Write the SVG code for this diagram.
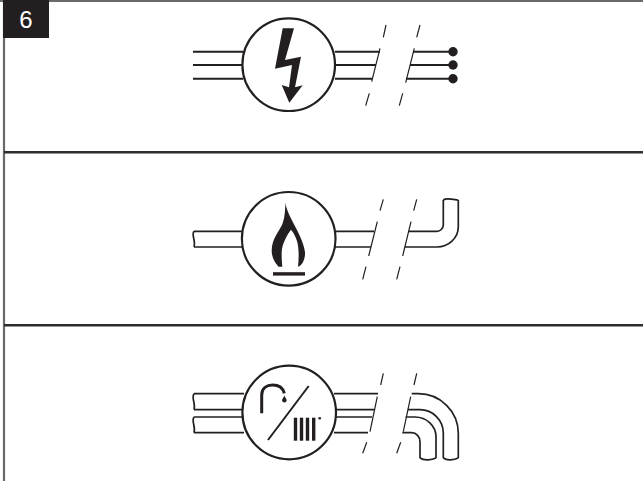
<svg xmlns="http://www.w3.org/2000/svg" width="643" height="481" viewBox="0 0 643 481">
<style>
.ln{fill:none;stroke:#231f20;stroke-width:2}
.th{fill:none;stroke:#231f20;stroke-width:1.7}
.ci{fill:#fff;stroke:#231f20;stroke-width:2.2}
.da{fill:none;stroke:#231f20;stroke-width:1.2}
.fr{fill:none;stroke:#2e2c2d;stroke-width:2.4}
.fg{fill:none;stroke:#6a6a6a;stroke-width:2.200}
.k{fill:#231f20}
</style>
<rect width="643" height="481" fill="#fff"/>
<g id="frame">
<path class="fg" d="M0 1H643M4 0V481"/>
<path class="fr" d="M4 152.300H643M4 325.300H643"/>
</g>
<g id="badge">
<rect class="k" x="3" y="0" width="46" height="38"/>
<text x="26" y="27.500" font-family="'Liberation Sans',Arial,sans-serif" font-size="24" fill="#fff" text-anchor="middle">6</text>
</g>
<g id="connectors">
<path class="ln" d="M193 51.700H243M193 65H243M193 78.700H243M335 51.700H380M335 65H376M335 78.700H372M413 51.700H453M410 65H453M406 78.700H453"/>
<path class="da" d="M386 25L383.300 37.300M380 48.300L371.700 81.700M369.300 93.300L365.700 105.700M420 25L416.700 37.300M414.300 48.300L405.700 82.700M402.700 93.300L399.300 105.700"/>
<path class="th" d="M194 231.300H243M194 247H243M335 231.300H374M335 247H371M408.700 231.300H436.700A6.500 6.500 0 0 0 443.300 225V200M404.700 247H436.700A21.500 20.300 0 0 0 458.300 226.700V200"/>
<path class="th" d="M194 231.300C191 235 196 240 194 247M443.300 200C447 197 454 200 458.300 200"/>
<path class="da" d="M383.300 199.300L380 210.700M377.300 221.700L368.700 256M366 266.700L362.700 279.300M416.700 199.300L413.700 210.700M411 221.700L402.700 256M400 266.700L396.700 279.300"/>
<path class="th" d="M194 393.700H244M194 409.700H243M194 417H243M194 432.700H244M334 393.700H378M334 409.700H374M334 417H372M334 432.700H368"/>
<path class="th" d="M194 393.700C191 398 196 404 194 409.700M194 417C191 421 196 427 194 432.700"/>
<path class="th" d="M411.700 393.700H418.300A40 39.600 0 0 1 458.300 433.300V458M407.700 409.700H420A23.300 23.600 0 0 1 443.300 433.300V458M405.700 417H415A21 19.700 0 0 1 436 436.700V458M402.300 432.700H411.700A8.300 9 0 0 1 420 441.700V458"/>
<path class="th" d="M420 458C424 461 432 460 436 458M443.300 458C447 461 454 460 458.300 458"/>
<path class="da" d="M383.300 373.300L380.700 385M377.300 396.700L370 431.700M366.700 442.300L362.700 453.300M416.700 373.300L414 385M410.700 396.700L403.300 431.700M400.700 442.300L396.700 453.300"/>
</g>
<g id="node-electric">
<circle class="ci" cx="288.700" cy="64.700" r="46.300"/>
<polygon class="k" points="282.700,28.300 294,28.300 285,60 301,56.700 295,87.300 302.700,85.300 289.300,102.700 281.700,85 289,87.300 292,65 275,68.700"/>
<circle class="k" cx="453" cy="51.700" r="4.700"/>
<circle class="k" cx="453" cy="65" r="4.700"/>
<circle class="k" cx="453" cy="78.700" r="4.700"/>
</g>
<g id="node-gas">
<circle class="ci" cx="288.700" cy="238.800" r="46.800"/>
<path class="k" d="M285.500 202.300C286 215 303 235 305 252C305.500 259 302 266 298 266.700C299 258 299 248 297 241C295 235 292 230 290.700 230C288 234 282 243 281.700 252C281.500 258 282 263 282.300 266.700H278.500C274 262 271.500 256 271.700 250C272 239 279 231 282 225C285 218 285 210 285.500 202.300Z"/>
<rect class="k" x="273" y="272.200" width="32" height="3.400"/>
</g>
<g id="node-water">
<circle class="ci" cx="289.200" cy="412.500" r="46.800"/>
<path d="M261.700 413.300V395C261.700 388 267 385 272.500 385C279 385 283 388 284.300 393.300" fill="none" stroke="#231f20" stroke-width="3"/>
<path class="k" d="M284.300 395.500C285.500 398 286.700 399 286.700 400.500A2.400 2.400 0 0 1 282 400.500C282 399 283.300 398 284.300 395.500Z"/>
<path d="M308.700 386L268 440" fill="none" stroke="#231f20" stroke-width="2"/>
<rect class="k" x="293.800" y="417.700" width="3.400" height="23"/>
<rect class="k" x="299.800" y="417.700" width="3.400" height="23"/>
<rect class="k" x="305.800" y="417.700" width="3.400" height="23"/>
<rect class="k" x="312" y="417.700" width="3.400" height="23"/>
<circle class="k" cx="319.700" cy="418.300" r="1.300"/>
</g>
</svg>
